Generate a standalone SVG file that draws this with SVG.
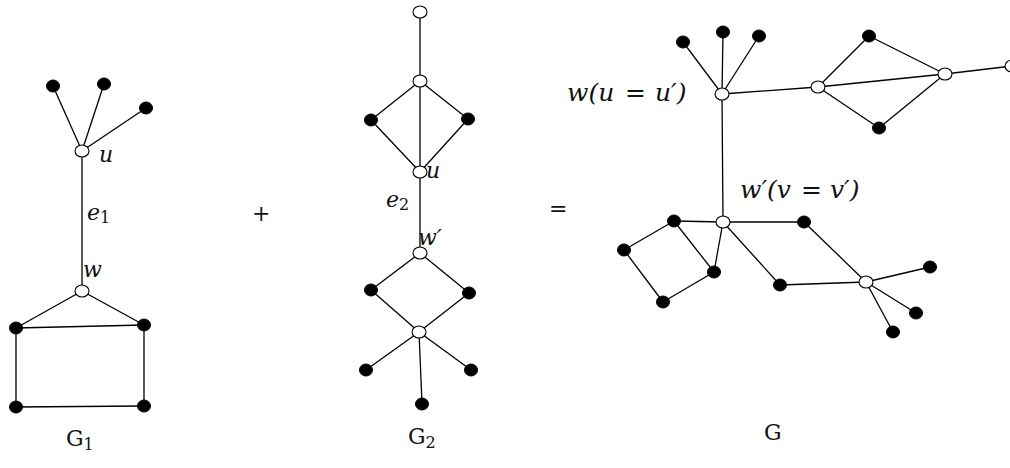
<svg xmlns="http://www.w3.org/2000/svg" width="1010" height="468" viewBox="0 0 1010 468">
<style>
.e{stroke:#000;stroke-width:1.3;fill:none}
.o{fill:#fff;stroke:#000;stroke-width:1.1}
.b{fill:#000;stroke:#000;stroke-width:1}
.t{font-family:"DejaVu Serif","Liberation Serif",serif;font-style:italic;font-size:22px;fill:#111}
.big{font-size:25px}
.r{font-style:normal}
.g{font-family:"DejaVu Serif","Liberation Serif",serif;font-size:22px;fill:#111}
</style>
<rect width="1010" height="468" fill="#fff"/>
<g id="connectors" class="e">
<!-- G1 -->
<line x1="82" y1="151" x2="53" y2="86"/>
<line x1="82" y1="151" x2="104" y2="84"/>
<line x1="82" y1="151" x2="146" y2="108"/>
<line x1="82" y1="151" x2="82" y2="291"/>
<line x1="82" y1="291" x2="16" y2="328"/>
<line x1="82" y1="291" x2="144" y2="325"/>
<line x1="16" y1="328" x2="144" y2="325"/>
<line x1="16" y1="328" x2="16" y2="407"/>
<line x1="144" y1="325" x2="144" y2="406"/>
<line x1="16" y1="407" x2="144" y2="406"/>
<!-- G2 -->
<line x1="420" y1="12" x2="420" y2="81"/>
<line x1="420" y1="81" x2="371" y2="120"/>
<line x1="420" y1="81" x2="468" y2="119"/>
<line x1="420" y1="81" x2="420" y2="172"/>
<line x1="371" y1="120" x2="420" y2="172"/>
<line x1="468" y1="119" x2="420" y2="172"/>
<line x1="420" y1="172" x2="420" y2="253"/>
<line x1="420" y1="253" x2="371" y2="290"/>
<line x1="420" y1="253" x2="469" y2="293"/>
<line x1="371" y1="290" x2="419" y2="332"/>
<line x1="469" y1="293" x2="419" y2="332"/>
<line x1="419" y1="332" x2="366" y2="370"/>
<line x1="419" y1="332" x2="471" y2="370"/>
<line x1="419" y1="332" x2="422" y2="404"/>
<!-- G -->
<line x1="722" y1="94" x2="683" y2="42"/>
<line x1="722" y1="94" x2="723" y2="32"/>
<line x1="722" y1="94" x2="759" y2="36"/>
<line x1="722" y1="94" x2="818" y2="87"/>
<line x1="818" y1="87" x2="869" y2="36"/>
<line x1="818" y1="87" x2="879" y2="128"/>
<line x1="818" y1="87" x2="945" y2="74"/>
<line x1="869" y1="36" x2="945" y2="74"/>
<line x1="879" y1="128" x2="945" y2="74"/>
<line x1="945" y1="74" x2="1012" y2="66"/>
<line x1="722" y1="94" x2="723" y2="222"/>
<line x1="723" y1="222" x2="674" y2="221"/>
<line x1="674" y1="221" x2="624" y2="250"/>
<line x1="624" y1="250" x2="663" y2="302"/>
<line x1="663" y1="302" x2="714" y2="272"/>
<line x1="714" y1="272" x2="674" y2="221"/>
<line x1="714" y1="272" x2="723" y2="222"/>
<line x1="723" y1="222" x2="804" y2="222"/>
<line x1="723" y1="222" x2="780" y2="285"/>
<line x1="804" y1="222" x2="866" y2="282"/>
<line x1="780" y1="285" x2="866" y2="282"/>
<line x1="866" y1="282" x2="930" y2="267"/>
<line x1="866" y1="282" x2="916" y2="313"/>
<line x1="866" y1="282" x2="893" y2="332"/>
</g>
<g id="edge-labels">
<text class="t" x="87" y="220">e<tspan class="r" font-size="16" dy="3">1</tspan></text>
<text class="t" x="386" y="207">e<tspan class="r" font-size="16" dy="3">2</tspan></text>
</g>
<!-- G1 nodes -->
<g id="g1-u"><ellipse class="o" cx="82" cy="151" rx="7" ry="6"/><text class="t" x="99" y="162">u</text></g>
<g id="g1-a1"><ellipse class="b" cx="53" cy="86" rx="6.5" ry="6"/></g>
<g id="g1-a2"><ellipse class="b" cx="104" cy="84" rx="6.5" ry="6"/></g>
<g id="g1-a3"><ellipse class="b" cx="146" cy="108" rx="6.5" ry="6"/></g>
<g id="g1-w"><ellipse class="o" cx="82" cy="291" rx="7" ry="6"/><text class="t" x="83" y="277">w</text></g>
<g id="g1-b1"><ellipse class="b" cx="16" cy="328" rx="6.5" ry="6"/></g>
<g id="g1-b2"><ellipse class="b" cx="144" cy="325" rx="6.5" ry="6"/></g>
<g id="g1-b3"><ellipse class="b" cx="16" cy="407" rx="6.5" ry="6"/></g>
<g id="g1-b4"><ellipse class="b" cx="144" cy="406" rx="6.5" ry="6"/></g>
<!-- G2 nodes -->
<g id="g2-top"><ellipse class="o" cx="420" cy="12" rx="7" ry="6"/></g>
<g id="g2-c"><ellipse class="o" cx="420" cy="81" rx="7" ry="6"/></g>
<g id="g2-l1"><ellipse class="b" cx="371" cy="120" rx="6.5" ry="6"/></g>
<g id="g2-r1"><ellipse class="b" cx="468" cy="119" rx="6.5" ry="6"/></g>
<g id="g2-u"><ellipse class="o" cx="420" cy="172" rx="7" ry="6"/><text class="t" x="426" y="178">u</text></g>
<g id="g2-w"><ellipse class="o" cx="420" cy="253" rx="7" ry="6"/><text class="t" x="418" y="245">w′</text></g>
<g id="g2-l2"><ellipse class="b" cx="371" cy="290" rx="6.5" ry="6"/></g>
<g id="g2-r2"><ellipse class="b" cx="469" cy="293" rx="6.5" ry="6"/></g>
<g id="g2-d"><ellipse class="o" cx="419" cy="332" rx="7" ry="6"/></g>
<g id="g2-f1"><ellipse class="b" cx="366" cy="370" rx="6.5" ry="6"/></g>
<g id="g2-f2"><ellipse class="b" cx="471" cy="370" rx="6.5" ry="6"/></g>
<g id="g2-f3"><ellipse class="b" cx="422" cy="404" rx="6.5" ry="6"/></g>
<!-- G nodes -->
<g id="g-w"><ellipse class="o" cx="722" cy="94" rx="7" ry="6"/><text class="t big" y="101"><tspan x="567">w(u</tspan><tspan x="625">=</tspan><tspan x="655">u′)</tspan></text></g>
<g id="g-a1"><ellipse class="b" cx="683" cy="42" rx="6.5" ry="6"/></g>
<g id="g-a2"><ellipse class="b" cx="723" cy="32" rx="6.5" ry="6"/></g>
<g id="g-a3"><ellipse class="b" cx="759" cy="36" rx="6.5" ry="6"/></g>
<g id="g-p"><ellipse class="o" cx="818" cy="87" rx="7" ry="6"/></g>
<g id="g-pt"><ellipse class="b" cx="869" cy="36" rx="6.5" ry="6"/></g>
<g id="g-pb"><ellipse class="b" cx="879" cy="128" rx="6.5" ry="6"/></g>
<g id="g-q"><ellipse class="o" cx="945" cy="74" rx="7" ry="6"/></g>
<g id="g-end"><ellipse class="o" cx="1012" cy="66" rx="7" ry="6"/></g>
<g id="g-wp"><ellipse class="o" cx="723" cy="222" rx="7" ry="6"/><text class="t big" y="198"><tspan x="740">w′(v</tspan><tspan x="801">=</tspan><tspan x="830">v′)</tspan></text></g>
<g id="g-s1"><ellipse class="b" cx="674" cy="221" rx="6.5" ry="6"/></g>
<g id="g-s2"><ellipse class="b" cx="624" cy="250" rx="6.5" ry="6"/></g>
<g id="g-s3"><ellipse class="b" cx="663" cy="302" rx="6.5" ry="6"/></g>
<g id="g-s4"><ellipse class="b" cx="714" cy="272" rx="6.5" ry="6"/></g>
<g id="g-h1"><ellipse class="b" cx="804" cy="222" rx="6.5" ry="6"/></g>
<g id="g-h2"><ellipse class="b" cx="780" cy="285" rx="6.5" ry="6"/></g>
<g id="g-k"><ellipse class="o" cx="866" cy="282" rx="7" ry="6"/></g>
<g id="g-k1"><ellipse class="b" cx="930" cy="267" rx="6.5" ry="6"/></g>
<g id="g-k2"><ellipse class="b" cx="916" cy="313" rx="6.5" ry="6"/></g>
<g id="g-k3"><ellipse class="b" cx="893" cy="332" rx="6.5" ry="6"/></g>
<!-- operators and titles -->
<text class="g" x="252" y="221" font-size="21">+</text>
<text class="g" x="549" y="216" font-size="21">=</text>
<text class="g" x="66" y="446">G<tspan font-size="16" dy="4">1</tspan></text>
<text class="g" x="408" y="444">G<tspan font-size="16" dy="4">2</tspan></text>
<text class="g" x="764" y="440">G</text>
</svg>
